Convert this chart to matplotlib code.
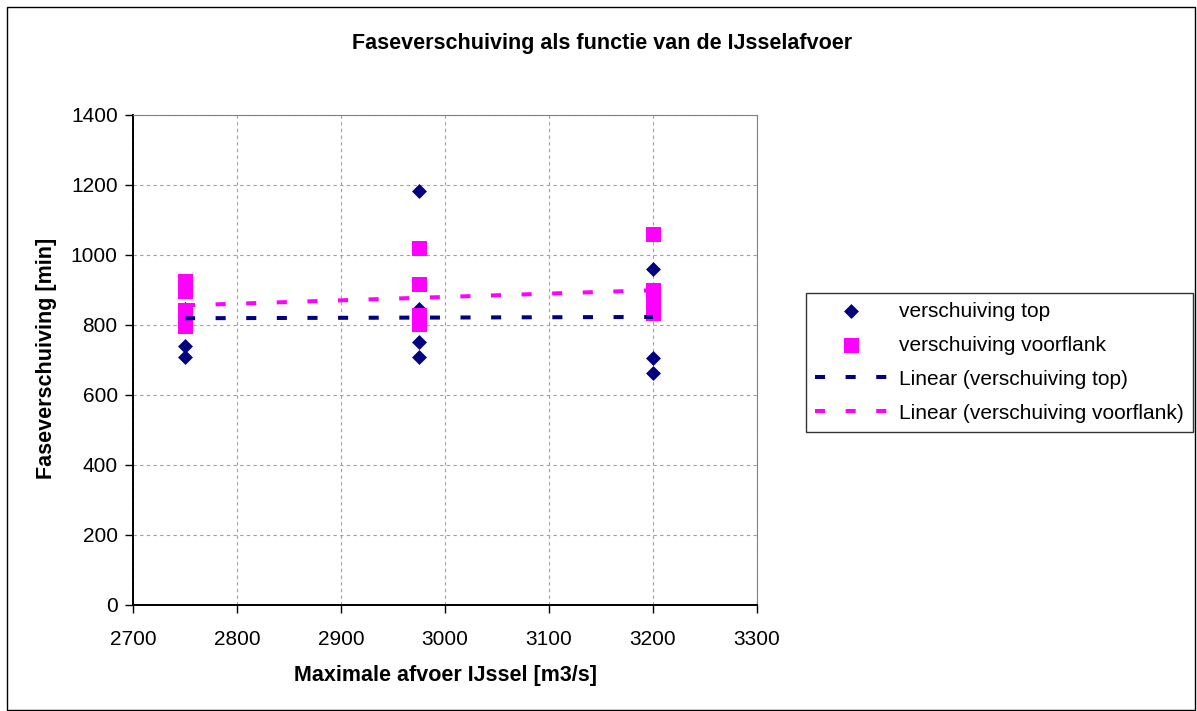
import numpy as np
import matplotlib.pyplot as plt
from matplotlib.patches import Rectangle

plt.rcParams['font.family'] = ['Liberation Sans', 'DejaVu Sans']

# maximale afvoer per groep
afvoer = [2750, 2975, 3200]

# verschuiving top [min], per afvoer
top_2750 = [847, 740, 710, 800, 900]
top_2975 = [1184, 846, 751, 709, 815]
top_3200 = [959, 706, 663, 845, 842]

# verschuiving voorflank [min], per afvoer
vf_2750 = [926, 898, 842, 820, 798]
vf_2975 = [1020, 917, 828, 815, 802]
vf_3200 = [1061, 899, 862, 845, 833]

x_top = np.repeat(afvoer, [len(top_2750), len(top_2975), len(top_3200)])
y_top = np.array(top_2750 + top_2975 + top_3200)
x_vf = np.repeat(afvoer, [len(vf_2750), len(vf_2975), len(vf_3200)])
y_vf = np.array(vf_2750 + vf_2975 + vf_3200)

navy = '#000080'
magenta = '#FF00FF'

fig = plt.figure(figsize=(11.97, 7.11), dpi=100)
ax = fig.add_axes([133 / 1197, 1 - 605 / 711, (757 - 133) / 1197, (605 - 115) / 711])

# outer chart border
fig.patches.append(Rectangle((7 / 1197, 1 / 711), 1188 / 1197, 703 / 711,
                             transform=fig.transFigure, fill=False,
                             edgecolor='black', linewidth=1.0))

ax.scatter(x_top, y_top, marker='D', s=7.6 ** 2, color=navy, linewidths=0,
           label='verschuiving top', zorder=3)
ax.scatter(x_vf, y_vf, marker='s', s=10.8 ** 2, color=magenta, linewidths=0,
           label='verschuiving voorflank', zorder=4)

# linear trendlines
xs = np.array([min(afvoer), max(afvoer)])
for xd, yd, c, lab in [(x_top, y_top, navy, 'Linear (verschuiving top)'),
                       (x_vf, y_vf, magenta, 'Linear (verschuiving voorflank)')]:
    a, b = np.polyfit(xd, yd, 1)
    ln, = ax.plot(xs, a * xs + b, color=c, linewidth=2.9, label=lab, zorder=5)
    ln.set_dashes((2.5, 5.1))
    ln.set_dash_capstyle('butt')

ax.set_xlim(2700, 3300)
ax.set_ylim(0, 1400)
ax.set_xticks(np.arange(2700, 3301, 100))
ax.set_yticks(np.arange(0, 1401, 200))
ax.grid(True, color='#a0a0a0', linestyle=(0, (3, 3)), linewidth=0.8)
ax.set_axisbelow(True)

for s in ['top', 'right']:
    ax.spines[s].set_color('#808080')
for s in ['left', 'bottom']:
    ax.spines[s].set_color('black')
    ax.spines[s].set_linewidth(1.4)

ax.tick_params(axis='both', direction='out', length=6, width=1, labelsize=15)
ax.tick_params(axis='y', pad=5)
ax.tick_params(axis='x', pad=12)

fig.text(0.503, 1 - 43 / 711, 'Faseverschuiving als functie van de IJsselafvoer',
         ha='center', va='center', fontsize=15.5, fontweight='bold')
fig.text(446 / 1197, 1 - 675 / 711, 'Maximale afvoer IJssel [m3/s]',
         ha='center', va='center', fontsize=15.5, fontweight='bold')
fig.text(47 / 1197, 1 - 358 / 711, 'Faseverschuiving [min]', rotation=90,
         ha='center', va='center', fontsize=15.5, fontweight='bold')

leg = fig.legend(loc='upper left', bbox_to_anchor=(806 / 1197, 1 - 293 / 711),
                 fontsize=15, frameon=True, fancybox=False, handlelength=3.5,
                 handletextpad=0.55, labelspacing=0.72, borderpad=0.42,
                 borderaxespad=0)
leg.get_frame().set_edgecolor('black')
leg.get_frame().set_linewidth(1.0)

fig.savefig('out.png', dpi=100)
